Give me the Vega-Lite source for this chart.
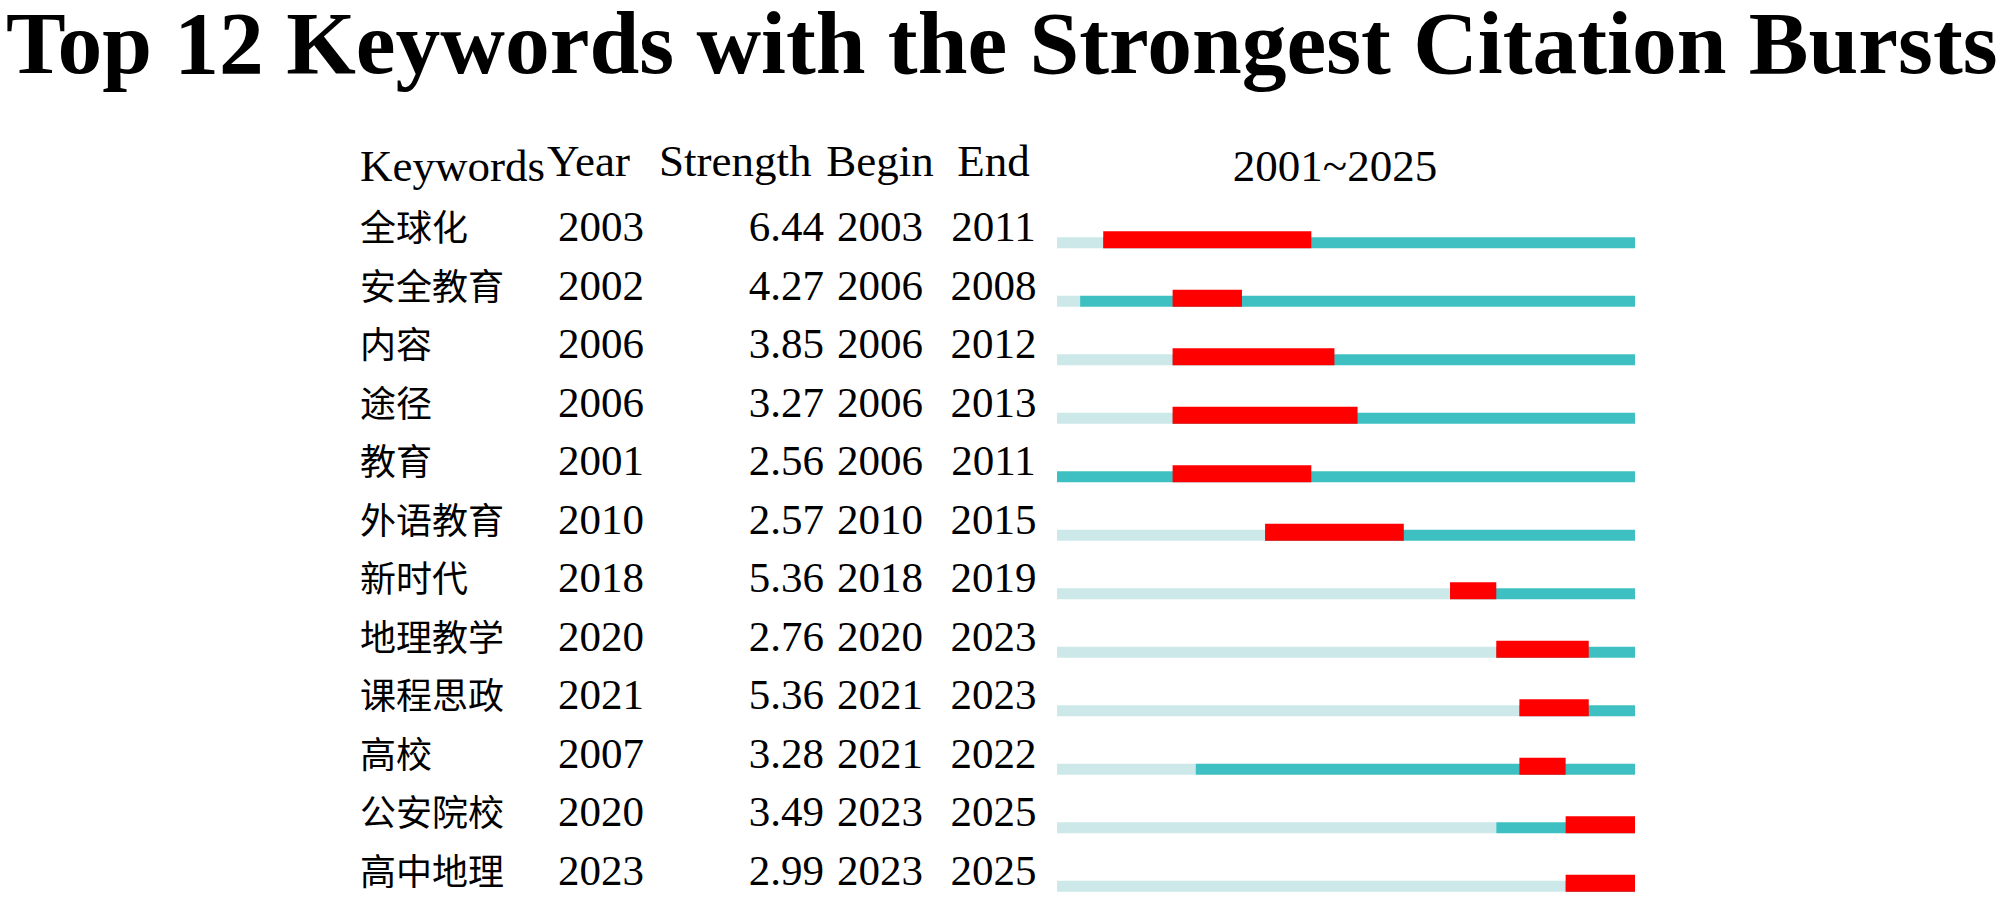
{
  "$schema": "https://vega.github.io/schema/vega-lite/v6.json",
  "background": "white",
  "padding": {"left": 5, "top": 0, "right": 0, "bottom": 0},
  "title": {
    "text": "Top 12 Keywords with the Strongest Citation Bursts",
    "font": "Liberation Serif",
    "fontSize": 89.5,
    "fontWeight": "bold",
    "color": "#000000",
    "anchor": "middle",
    "offset": 49
  },
  "datasets": {
    "bursts": [
      {"keyword": "全球化", "year": 2003, "strength": 6.44, "begin": 2003, "end": 2011},
      {"keyword": "安全教育", "year": 2002, "strength": 4.27, "begin": 2006, "end": 2008},
      {"keyword": "内容", "year": 2006, "strength": 3.85, "begin": 2006, "end": 2012},
      {"keyword": "途径", "year": 2006, "strength": 3.27, "begin": 2006, "end": 2013},
      {"keyword": "教育", "year": 2001, "strength": 2.56, "begin": 2006, "end": 2011},
      {"keyword": "外语教育", "year": 2010, "strength": 2.57, "begin": 2010, "end": 2015},
      {"keyword": "新时代", "year": 2018, "strength": 5.36, "begin": 2018, "end": 2019},
      {"keyword": "地理教学", "year": 2020, "strength": 2.76, "begin": 2020, "end": 2023},
      {"keyword": "课程思政", "year": 2021, "strength": 5.36, "begin": 2021, "end": 2023},
      {"keyword": "高校", "year": 2007, "strength": 3.28, "begin": 2021, "end": 2022},
      {"keyword": "公安院校", "year": 2020, "strength": 3.49, "begin": 2023, "end": 2025},
      {"keyword": "高中地理", "year": 2023, "strength": 2.99, "begin": 2023, "end": 2025}
    ]
  },
  "data": {"name": "bursts"},
  "spacing": 0,
  "config": {
    "view": {"stroke": null},
    "concat": {"spacing": 0},
    "text": {"font": "Liberation Serif", "fontSize": 43, "color": "#000000", "baseline": "alphabetic"}
  },
  "hconcat": [
    {
      "width": 187,
      "height": 702,
      "title": {"text": "Keywords", "anchor": "start", "font": "Liberation Serif", "fontSize": 45, "fontWeight": "normal", "color": "#000000", "offset": 22},
      "mark": {"type": "text", "align": "left", "font": "Noto Sans CJK SC", "fontSize": 36},
      "encoding": {
        "x": {"datum": 0, "type": "quantitative", "scale": {"domain": [0, 1]}, "axis": null},
        "y": {"field": "keyword", "type": "nominal", "sort": null, "axis": null, "scale": {"type": "band", "paddingInner": 0, "paddingOuter": 0}},
        "text": {"field": "keyword", "type": "nominal"}
      }
    },
    {
      "width": 97,
      "height": 702,
      "title": {"text": "Year", "anchor": "start", "font": "Liberation Serif", "fontSize": 45, "fontWeight": "normal", "color": "#000000", "offset": 22},
      "mark": {"type": "text", "align": "right"},
      "encoding": {
        "x": {"datum": 1, "type": "quantitative", "scale": {"domain": [0, 1]}, "axis": null},
        "y": {"field": "keyword", "type": "nominal", "sort": null, "axis": null, "scale": {"type": "band", "paddingInner": 0, "paddingOuter": 0}},
        "text": {"field": "year", "type": "nominal"}
      }
    },
    {
      "width": 180,
      "height": 702,
      "title": {"text": "Strength", "anchor": "start", "dx": 15, "font": "Liberation Serif", "fontSize": 45, "fontWeight": "normal", "color": "#000000", "offset": 22},
      "mark": {"type": "text", "align": "right"},
      "encoding": {
        "x": {"datum": 1, "type": "quantitative", "scale": {"domain": [0, 1]}, "axis": null},
        "y": {"field": "keyword", "type": "nominal", "sort": null, "axis": null, "scale": {"type": "band", "paddingInner": 0, "paddingOuter": 0}},
        "text": {"field": "strength", "type": "quantitative", "format": ".2f"}
      }
    },
    {
      "width": 112,
      "height": 702,
      "title": {"text": "Begin", "anchor": "middle", "font": "Liberation Serif", "fontSize": 45, "fontWeight": "normal", "color": "#000000", "offset": 22},
      "mark": {"type": "text", "align": "center"},
      "encoding": {
        "x": {"datum": 0.5, "type": "quantitative", "scale": {"domain": [0, 1]}, "axis": null},
        "y": {"field": "keyword", "type": "nominal", "sort": null, "axis": null, "scale": {"type": "band", "paddingInner": 0, "paddingOuter": 0}},
        "text": {"field": "begin", "type": "nominal"}
      }
    },
    {
      "width": 115,
      "height": 702,
      "title": {"text": "End", "anchor": "middle", "font": "Liberation Serif", "fontSize": 45, "fontWeight": "normal", "color": "#000000", "offset": 22},
      "mark": {"type": "text", "align": "center"},
      "encoding": {
        "x": {"datum": 0.5, "type": "quantitative", "scale": {"domain": [0, 1]}, "axis": null},
        "y": {"field": "keyword", "type": "nominal", "sort": null, "axis": null, "scale": {"type": "band", "paddingInner": 0, "paddingOuter": 0}},
        "text": {"field": "end", "type": "nominal"}
      }
    },
    {
      "width": 578,
      "height": 702,
      "title": {"text": "2001~2025", "anchor": "middle", "dx": -11, "font": "Liberation Serif", "fontSize": 45, "fontWeight": "normal", "color": "#000000", "offset": 22},
      "encoding": {
        "y": {"field": "keyword", "type": "nominal", "sort": null, "axis": null, "scale": {"type": "band", "paddingInner": 0, "paddingOuter": 0}}
      },
      "layer": [
        {
          "mark": {"type": "rule", "color": "#CDE8E8", "strokeWidth": 11, "strokeCap": "butt", "yOffset": 1.5},
          "encoding": {
            "x": {"field": "year", "type": "quantitative", "scale": {"domain": [2001, 2026], "nice": false, "zero": false}, "axis": null},
            "x2": {"datum": 2001}
          }
        },
        {
          "mark": {"type": "rule", "color": "#3EC0C2", "strokeWidth": 11, "strokeCap": "butt", "yOffset": 1.5},
          "encoding": {
            "x": {"field": "year", "type": "quantitative", "scale": {"domain": [2001, 2026], "nice": false, "zero": false}, "axis": null},
            "x2": {"datum": 2026}
          }
        },
        {
          "mark": {"type": "rule", "color": "#FE0000", "strokeWidth": 17, "strokeCap": "butt", "yOffset": -1.5, "x2Offset": 23.12},
          "encoding": {
            "x": {"field": "begin", "type": "quantitative", "scale": {"domain": [2001, 2026], "nice": false, "zero": false}, "axis": null},
            "x2": {"field": "end"}
          }
        }
      ]
    }
  ]
}
